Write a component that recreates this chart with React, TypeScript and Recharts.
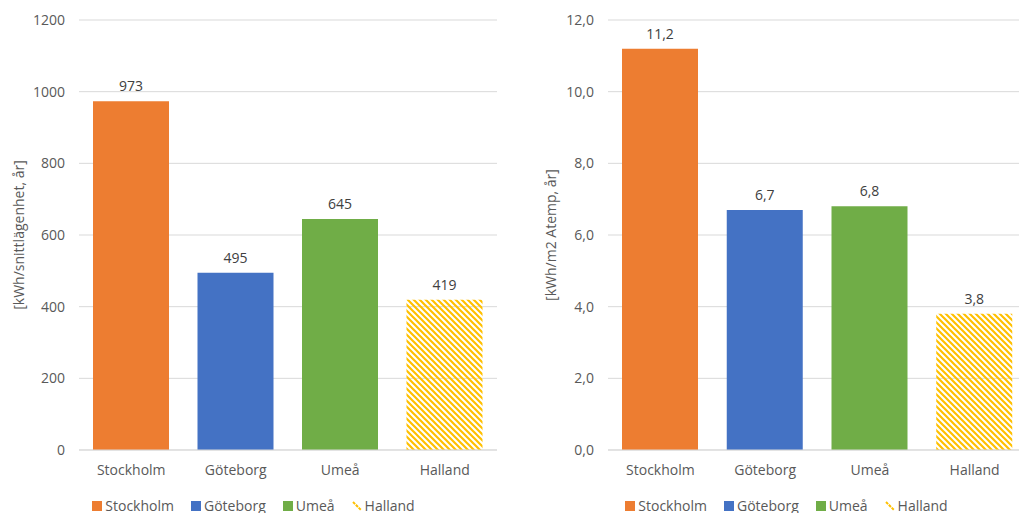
import React from 'react';
import { BarChart, Bar, XAxis, YAxis, CartesianGrid, Cell, LabelList, Legend } from 'recharts';

// energy use per region, two ways of normalising it
const regions = ['Stockholm', 'Göteborg', 'Umeå', 'Halland'];
const regionColors = ['#ED7D31', '#4472C4', '#70AD47', '#FFC000'];
const perApartment = [973, 495, 645, 419];
const perArea = [11.2, 6.7, 6.8, 3.8];
const apartmentTicks = [0, 200, 400, 600, 800, 1000, 1200];
const areaTicks = [0, 2, 4, 6, 8, 10, 12];

const FONT = '"Open Sans", sans-serif';
const TEXT_GREY = '#595959';
const GRID_GREY = '#D9D9D9';

const intFmt = (v: number) => String(v);
const commaFmt = (v: number) => Number(v).toFixed(1).replace('.', ',');

// rotated y-axis title, centred on the plot height
const AxisTitle = ({ viewBox, value, posX }: any) => {
  const cy = viewBox.y + viewBox.height / 2;
  return (
    <text
      x={posX}
      y={cy}
      transform={`rotate(-90, ${posX}, ${cy})`}
      textAnchor="middle"
      dominantBaseline="central"
      fill={TEXT_GREY}
      fontSize={14}
      fontFamily={FONT}
    >
      {value}
    </text>
  );
};

const LegendRow = ({ shift }: { shift: number }) => (
  <div
    style={{
      display: 'flex',
      justifyContent: 'center',
      gap: 17,
      paddingLeft: shift,
      fontSize: 14,
      color: TEXT_GREY,
      fontFamily: FONT,
      lineHeight: '19px',
    }}
  >
    {regions.map((r, i) => (
      <span key={r} style={{ display: 'flex', alignItems: 'center' }}>
        <svg width={10} height={10} style={{ marginRight: 3 }}>
          {i === 3 ? (
            <line x1={1} y1={1} x2={9} y2={9} stroke={regionColors[i]} strokeWidth={2} strokeDasharray="3 1" />
          ) : (
            <rect width={10} height={10} fill={regionColors[i]} />
          )}
        </svg>
        {r}
      </span>
    ))}
  </div>
);

interface RegionChartProps {
  values: number[];
  ticks: number[];
  title: string;
  fmt: (v: number) => string;
  hatchId: string;
  left: number;
  titleX: number;
  yWidth: number;
  legendShift: number;
}

const RegionChart: React.FC<RegionChartProps> = ({ values, ticks, title, fmt, hatchId, left, titleX, yWidth, legendShift }) => {
  const data = regions.map((name, i) => ({ name, value: values[i] }));
  return (
    <div style={{ position: 'absolute', left, top: 0 }}>
      <BarChart width={510} height={519} data={data} margin={{ top: 20, right: 13, bottom: 4, left: 0 }}>
        <defs>
          <pattern id={hatchId} width={6} height={6} patternUnits="userSpaceOnUse">
            <path d="M0,0 L6,6 M-1,5 L1,7 M5,-1 L7,1" stroke="#FFC000" strokeWidth={2.2} />
          </pattern>
        </defs>
        <CartesianGrid vertical={false} stroke={GRID_GREY} />
        <XAxis
          dataKey="name"
          axisLine={{ stroke: GRID_GREY }}
          tickLine={false}
          tickMargin={9}
          height={46}
          tick={{ fill: TEXT_GREY, fontSize: 14, fontFamily: FONT }}
        />
        <YAxis
          domain={[0, ticks[ticks.length - 1]]}
          ticks={ticks}
          tickFormatter={fmt}
          width={yWidth}
          axisLine={false}
          tickLine={false}
          tickMargin={8}
          tick={{ fill: TEXT_GREY, fontSize: 14, fontFamily: FONT }}
          label={<AxisTitle value={title} posX={titleX} />}
        />
        <Legend verticalAlign="bottom" content={<LegendRow shift={legendShift} />} />
        <Bar dataKey="value" barSize={76} isAnimationActive={false}>
          {data.map((d, i) => (
            <Cell key={d.name} fill={i === 3 ? `url(#${hatchId})` : regionColors[i]} />
          ))}
          <LabelList
            dataKey="value"
            position="top"
            offset={10}
            formatter={(v: any) => fmt(v)}
            fill="#404040"
            fontSize={14}
            fontFamily={FONT}
          />
        </Bar>
      </BarChart>
    </div>
  );
};

export default function App() {
  return (
    <div
      style={{
        position: 'fixed',
        left: 0,
        top: 0,
        width: 1019,
        height: 513,
        overflow: 'hidden',
        background: '#fff',
        fontFamily: FONT,
      }}
    >
      <RegionChart
        values={perApartment}
        ticks={apartmentTicks}
        title="[kWh/snittlägenhet, år]"
        fmt={intFmt}
        hatchId="hatchApartment"
        left={0}
        titleX={18}
        yWidth={79}
        legendShift={10}
      />
      <RegionChart
        values={perArea}
        ticks={areaTicks}
        title="[kWh/m2 Atemp, år]"
        fmt={commaFmt}
        hatchId="hatchArea"
        left={530}
        titleX={20}
        yWidth={78}
        legendShift={16}
      />
    </div>
  );
}
